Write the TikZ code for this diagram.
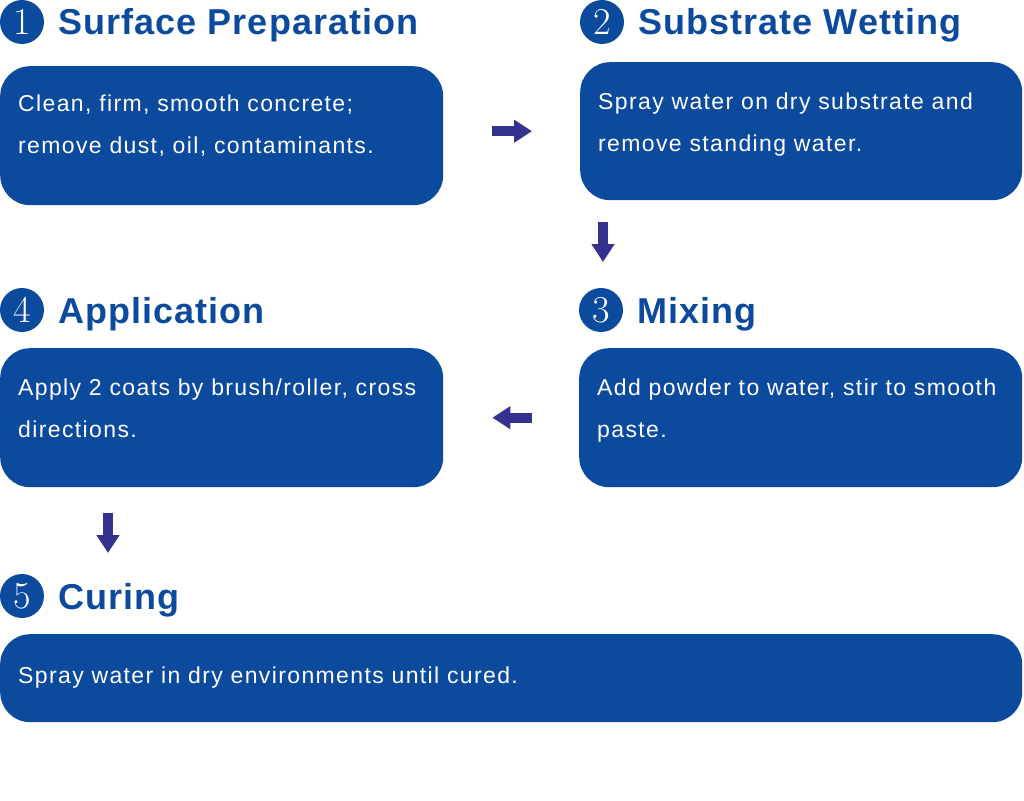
\documentclass[tikz,border=0pt]{standalone}
\usepackage{fontspec}
\usetikzlibrary{arrows.meta}
\definecolor{stepblue}{HTML}{0C4A9E}
\definecolor{arrowblue}{HTML}{35328F}
\newfontfamily\headfont{Liberation Sans}[LetterSpace=3]
\newfontfamily\bodyfont{Liberation Sans}[LetterSpace=6]

\begin{document}
\begin{tikzpicture}[x=1pt,y=-1pt,
  card/.style={fill=stepblue,rounded corners=30pt,anchor=north west,inner sep=0pt},
  num/.style={circle,fill=stepblue,text=white,minimum size=44pt,inner sep=0pt,font=\fontsize{38}{38}\selectfont},
  title/.style={anchor=base west,text=stepblue,inner sep=0pt,font=\headfont\bfseries\fontsize{36}{36}\selectfont},
  body/.style={anchor=north west,text=white,align=left,inner sep=0pt,font=\bodyfont\fontsize{23}{42}\selectfont},
  flow/.style={draw=arrowblue,line width=10pt,-{Triangle[width=22pt,length=18pt]}}]
\useasboundingbox (0,0) rectangle (1024,800);
% step headings
\node[num] (n1) at (22,22) {1};
\node[title] (h1) at (58,35) {Surface Preparation};
\node[num] (n2) at (602,22) {2};
\node[title] (h2) at (638,35) {Substrate Wetting};
\node[num] (n3) at (601,310) {3};
\node[title] (h3) at (637,323) {Mixing};
\node[num] (n4) at (22,310) {4};
\node[title] (h4) at (58,323) {Application};
\node[num] (n5) at (22,596) {5};
\node[title] (h5) at (58,609) {Curing};
% boxes
\node[card,minimum width=443pt,minimum height=139pt] (prep) at (0,66) {};
\node[card,minimum width=442pt,minimum height=138pt] (wet) at (580,62) {};
\node[card,minimum width=443pt,minimum height=139pt] (mix) at (579,348) {};
\node[card,minimum width=443pt,minimum height=139pt] (app) at (0,348) {};
\node[card,minimum width=1022pt,minimum height=88pt] (cure) at (0,634) {};
% texts
\node[body] (t1) at (18,95) {Clean, firm, smooth concrete;\\remove dust, oil, contaminants.};
\node[body] (t2) at (598,93) {Spray water on dry substrate and\\remove standing water.};
\node[body] (t3) at (597,379) {Add powder to water, stir to smooth\\paste.};
\node[body] (t4) at (18,379) {Apply 2 coats by brush/roller, cross\\directions.};
\node[body] (t5) at (18,667) {Spray water in dry environments until cured.};
% arrows
\draw[flow,shorten <=49pt,shorten >=48pt] (prep.east |- wet.west) -- (wet.west);
\draw[flow] ([xshift=23pt,yshift=-22pt]wet.south west) -- ([xshift=24pt,yshift=86pt]mix.north west);
\draw[flow,shorten <=47pt,shorten >=49pt] (mix.west) -- (app.east);
\draw[flow] ([xshift=108pt,yshift=-26pt]app.south west) -- ([xshift=108pt,yshift=81pt]cure.north west);
\end{tikzpicture}
\end{document}
